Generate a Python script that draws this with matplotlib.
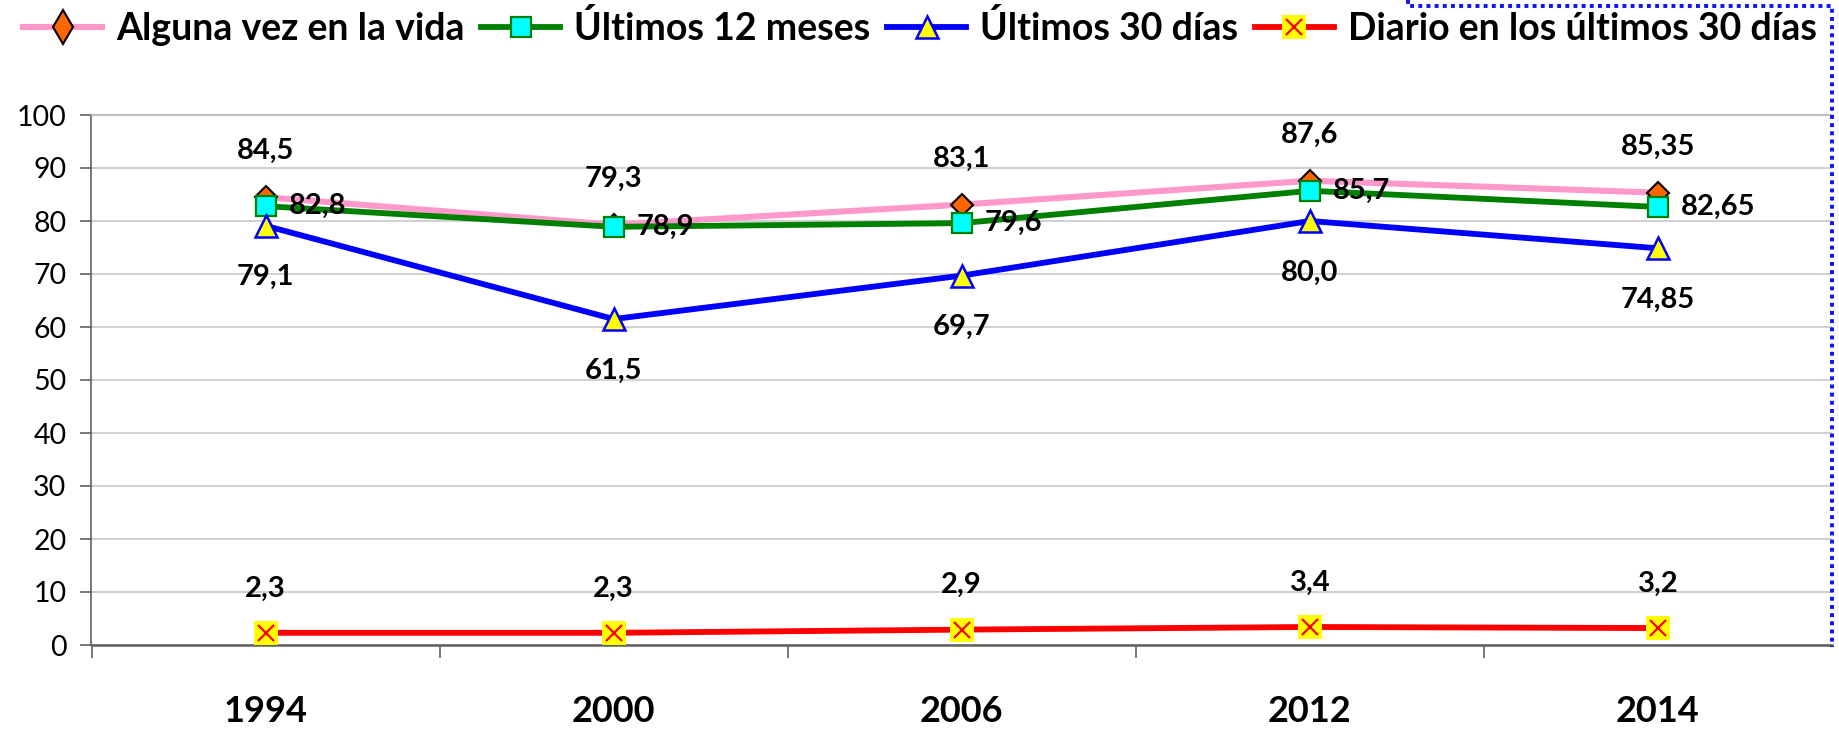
import matplotlib
matplotlib.use("Agg")
import matplotlib.pyplot as plt
from matplotlib.lines import Line2D
from matplotlib.legend_handler import HandlerTuple

plt.rcParams["font.family"] = ["Lato", "DejaVu Sans"]

# data
years = ["1994", "2000", "2006", "2012", "2014"]
alguna_vez = [84.5, 79.3, 83.1, 87.6, 85.35]
ultimos_12 = [82.8, 78.9, 79.6, 85.7, 82.65]
ultimos_30 = [79.1, 61.5, 69.7, 80.0, 74.85]
diario_30 = [2.3, 2.3, 2.9, 3.4, 3.2]
series_names = [
    "Alguna vez en la vida",
    "Últimos 12 meses",
    "Últimos 30 días",
    "Diario en los últimos 30 días",
]
y_ticks = list(range(0, 101, 10))


def fmt(v):
    s = f"{v:.1f}" if round(v, 1) == v else f"{v:.2f}"
    return s.replace(".", ",")


W, H = 1840, 729
fig = plt.figure(figsize=(W / 100, H / 100), dpi=100)
ax = fig.add_axes([91.5 / W, 1 - 645 / H, (1832 - 91.5) / W, (645 - 115) / H])

x = list(range(len(years)))

ax.plot(x, alguna_vez, color="#FF99CC", lw=4.4, marker="D", ms=11.5,
        mfc="#FF6600", mec="black", mew=1.5, zorder=3)
ax.plot(x, ultimos_12, color="#008000", lw=4.2, marker="s", ms=14,
        mfc="#00FFFF", mec="#008000", mew=1.6, zorder=4)
ax.plot(x, ultimos_30, color="#0000FF", lw=4.2, marker="^", ms=16.5,
        mfc="#FFFF00", mec="#0000FF", mew=1.8, zorder=5)
ax.plot(x, diario_30, color="#FF0000", lw=4.2, marker="s", ms=17.5,
        mfc="#FFFF00", mec="#FFFF00", mew=0, zorder=5)
ax.plot(x, diario_30, ls="none", marker="x", ms=11.5, mec="#FF0000",
        mew=1.6, zorder=6)

# data labels
lab = dict(fontsize=21, fontweight="bold", color="black",
           textcoords="offset points", zorder=7)
for xi, v in zip(x, alguna_vez):
    ax.annotate(fmt(v), (xi, v), xytext=(0, 33), ha="center", va="center", **lab)
for xi, v in zip(x, ultimos_12):
    ax.annotate(fmt(v), (xi, v), xytext=(16.5, 0), ha="left", va="center", **lab)
for xi, v in zip(x, ultimos_30):
    ax.annotate(fmt(v), (xi, v), xytext=(0, -37), ha="center", va="center", **lab)
for xi, v in zip(x, diario_30):
    ax.annotate(fmt(v), (xi, v), xytext=(0, 32), ha="center", va="center", **lab)

# axes
ax.set_xlim(-0.5, 4.5)
ax.set_ylim(0, 100)
ax.set_yticks(y_ticks)
ax.set_xticks(x)
ax.set_xticklabels(years, fontsize=26, fontweight="bold")
ax.set_xticks([-0.5, 0.5, 1.5, 2.5, 3.5], minor=True)
ax.tick_params(axis="x", which="major", length=0, pad=36)
ax.tick_params(axis="x", which="minor", length=9, width=1.2,
               color="#606060", direction="out")
ax.tick_params(axis="y", length=8, width=1.2, color="#606060",
               direction="out", labelsize=20.5, pad=10)
ax.grid(axis="y", color="#C8C8C8", lw=1.2)
ax.set_axisbelow(True)
ax.spines["right"].set_visible(False)
ax.spines["top"].set_color("#BFBFBF")
ax.spines["top"].set_linewidth(1.6)
ax.spines["left"].set_color("#606060")
ax.spines["left"].set_linewidth(1.2)
ax.spines["bottom"].set_color("#606060")
ax.spines["bottom"].set_linewidth(1.8)

# legend
h1 = Line2D([], [], color="#FF99CC", lw=4.4, marker="d", ms=17,
            mfc="#FF6600", mec="black", mew=1.5)
h2 = Line2D([], [], color="#008000", lw=4.2, marker="s", ms=14,
            mfc="#00FFFF", mec="#008000", mew=1.6)
h3 = Line2D([], [], color="#0000FF", lw=4.2, marker="^", ms=16.5,
            mfc="#FFFF00", mec="#0000FF", mew=1.8)
h4a = Line2D([], [], color="#FF0000", lw=4.2, marker="s", ms=17.5,
             mfc="#FFFF00", mec="#FFFF00", mew=0)
h4b = Line2D([], [], ls="none", marker="x", ms=11.5, mec="#FF0000", mew=1.6)
fig.legend([h1, h2, h3, (h4a, h4b)], series_names, loc="center",
           bbox_to_anchor=(0.5, 1 - 28 / H), ncol=4, frameon=False,
           prop={"size": 27, "weight": "bold"}, handlelength=2.1,
           handletextpad=0.37, columnspacing=0.45, borderaxespad=0,
           handler_map={tuple: HandlerTuple(ndivide=1)})

# blue dotted selection border at the top right
bx = [1408 / W, 1408 / W, 1832 / W, 1832 / W]
by = [1.0, 1 - 6 / H, 1 - 6 / H, 1 - 647 / H]
fig.add_artist(Line2D(bx, by, transform=fig.transFigure, color="#1010FF",
                      lw=2.8, ls=(0, (1, 1.1)), dash_capstyle="butt"))

fig.savefig("out.png", dpi=100)
